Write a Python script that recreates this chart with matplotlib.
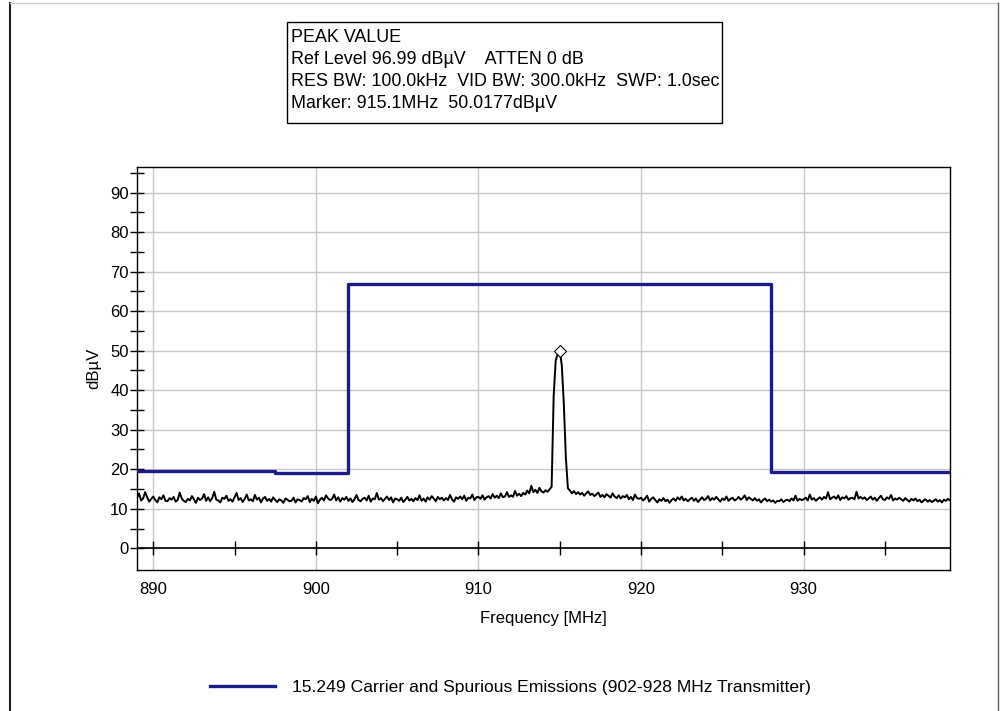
import numpy as np
import matplotlib
matplotlib.use("Agg")
import matplotlib.pyplot as plt
from matplotlib.lines import Line2D
from matplotlib.patches import Rectangle

plt.rcParams['font.family'] = ['Liberation Sans', 'DejaVu Sans']

# Sweep settings (401 points, 889-939 MHz)
sweep_start = 889.0
sweep_stop = 939.0
sweep_points = 401

# Measured trace (dBuV), one row per MHz, 8 points per row
trace_dbuv = [
    12.8, 13.9, 12.1, 12.6, 14.2, 12.9, 11.8, 12.5,   # 889
    13.1, 12.2, 11.6, 12.9, 12.4, 13.4, 12.0, 11.9,   # 890
    12.7, 12.3, 13.0, 11.8, 12.2, 14.1, 12.6, 12.0,   # 891
    11.7, 12.5, 12.1, 13.2, 12.4, 11.5, 12.8, 12.2,   # 892
    12.6, 13.7, 12.0, 12.9, 11.9, 12.7, 14.3, 12.3,   # 893
    12.1, 11.6, 12.8, 12.5, 13.3, 12.0, 12.4, 11.8,   # 894
    12.9, 14.0, 12.2, 12.7, 11.7, 12.5, 13.6, 12.1,   # 895
    12.4, 11.9, 13.5, 12.3, 12.8, 11.6, 12.6, 13.0,   # 896
    12.0, 12.5, 11.8, 12.9, 12.2, 11.7, 12.4, 12.1,   # 897
    11.5, 12.6, 12.3, 11.9, 12.0, 12.8, 11.6, 12.4,   # 898
    12.2, 11.8, 12.7, 12.4, 13.2, 11.7, 12.5, 12.0,   # 899
    13.1, 11.4, 12.3, 12.8, 12.1, 13.4, 12.6, 12.2,   # 900
    12.5, 13.6, 12.1, 12.9, 11.8, 12.7, 12.3, 13.0,   # 901
    12.0, 12.6, 11.7, 12.4, 13.5, 12.2, 11.9, 12.5,   # 902
    12.8, 12.1, 13.3, 11.8, 12.6, 12.4, 14.0, 12.3,   # 903
    12.7, 11.9, 12.5, 13.1, 12.2, 12.9, 11.6, 12.6,   # 904
    12.4, 12.0, 12.8, 11.7, 12.3, 13.0, 12.1, 12.5,   # 905
    11.9, 12.7, 12.2, 13.4, 12.0, 12.6, 11.8, 12.9,   # 906
    12.3, 13.2, 12.6, 11.9, 13.0, 12.4, 12.8, 12.1,   # 907
    12.7, 12.2, 13.5, 12.4, 11.8, 12.9, 12.5, 13.1,   # 908
    12.4, 13.3, 12.0, 12.8, 12.6, 13.6, 12.2, 12.9,   # 909
    13.0, 12.5, 13.4, 12.3, 12.9, 13.2, 12.6, 13.7,   # 910
    12.8, 13.3, 12.7, 13.9, 12.9, 13.1, 14.2, 13.0,   # 911
    13.4, 13.0, 14.5, 13.3, 13.8, 13.2, 14.0, 13.6,   # 912
    14.6, 13.9, 15.8, 14.2, 14.8, 14.0, 15.3, 14.4,   # 913
    14.1, 14.7, 14.3, 14.9, 15.6, 38.5, 47.5, 49.2,   # 914
    50.0, 46.3, 36.5, 23.0, 15.2, 14.6, 13.9, 14.5,   # 915
    13.7, 14.2, 13.6, 14.0, 13.3, 13.9, 14.4, 13.5,   # 916
    13.8, 13.2, 13.6, 14.1, 13.0, 13.5, 12.9, 13.7,   # 917
    13.3, 12.8, 13.9, 13.1, 12.7, 13.4, 12.6, 13.2,   # 918
    12.9, 13.5, 12.4, 13.0, 12.2, 13.6, 12.7, 12.5,   # 919
    12.8, 12.1, 12.6, 13.3, 11.8, 12.5, 12.9, 12.2,   # 920
    11.6, 12.4, 12.0, 12.7, 11.9, 12.3, 11.5, 12.2,   # 921
    12.6, 12.0, 12.9, 12.3, 13.1, 12.1, 12.5, 11.9,   # 922
    12.4, 12.8, 12.0, 12.6, 11.7, 12.3, 12.9, 12.2,   # 923
    12.5, 13.2, 12.1, 12.7, 12.3, 13.0, 12.4, 11.8,   # 924
    12.6, 12.2, 13.1, 12.0, 12.5, 12.8, 12.1, 12.4,   # 925
    13.0, 12.3, 12.7, 13.4, 12.2, 12.9, 12.5, 12.1,   # 926
    12.7, 12.0, 12.4, 11.6, 12.2, 12.6, 11.9, 12.3,   # 927
    11.8, 12.1, 11.5, 12.0, 11.9, 12.4, 11.7, 12.1,   # 928
    12.3, 11.9, 12.6, 12.1, 13.3, 12.0, 12.5, 12.2,   # 929
    12.4, 12.8, 12.1, 13.6, 12.3, 12.7, 12.0, 12.5,   # 930
    12.9, 12.3, 13.0, 12.6, 14.2, 12.4, 12.8, 13.1,   # 931
    12.5, 13.4, 12.2, 12.9, 12.6, 13.2, 12.3, 12.7,   # 932
    12.8, 12.4, 14.3, 12.6, 13.0, 12.5, 12.9, 12.2,   # 933
    12.6, 13.1, 12.3, 12.8, 12.0, 12.7, 13.3, 12.4,   # 934
    12.2, 12.9, 12.5, 13.5, 12.1, 12.6, 12.3, 12.8,   # 935
    12.4, 12.0, 12.7, 12.2, 11.8, 12.5, 12.1, 12.6,   # 936
    11.9, 12.3, 11.6, 12.1, 12.4, 11.8, 12.2, 11.7,   # 937
    12.0, 12.4, 11.8, 12.2, 11.6, 12.3, 12.0, 12.5,   # 938
    12.1,                                             # 939
]

# Limit line (15.249), step edges in MHz and levels in dBuV
limit_freq = [889.0, 897.5, 902.0, 928.0, 939.0]
limit_dbuv = [19.6, 19.1, 67.0, 19.3, 19.3]

x_labels = [890, 900, 910, 920, 930]
x_minor = [890, 895, 900, 905, 910, 915, 920, 925, 930, 935]
y_labels = [0, 10, 20, 30, 40, 50, 60, 70, 80, 90]
y_minor = [5, 15, 25, 35, 45, 55, 65, 75, 85, 95]

info_lines = [
    "PEAK VALUE",
    "Ref Level 96.99 dB\u00b5V    ATTEN 0 dB",
    "RES BW: 100.0kHz  VID BW: 300.0kHz  SWP: 1.0sec",
    "Marker: 915.1MHz  50.0177dB\u00b5V",
]
legend_label = "15.249 Carrier and Spurious Emissions (902-928 MHz Transmitter)"

freq = np.linspace(sweep_start, sweep_stop, sweep_points)
trace = np.array(trace_dbuv)

W, H = 1000, 711
fig = plt.figure(figsize=(10, 7.11), dpi=100)
ax = fig.add_axes([137 / W, 1 - 570 / H, 813 / W, 403 / H])

# limit line and trace
lim_line, = ax.plot(limit_freq, limit_dbuv, drawstyle='steps-post', color='#1c1c88',
                    lw=2.4, zorder=3, label=legend_label)
ax.plot(freq, trace, color='black', lw=1.4, zorder=4)

# peak marker
ipk = int(np.argmax(trace))
ax.plot(freq[ipk], trace[ipk], marker='D', ms=6.5, mfc='white', mec='black', mew=0.8, zorder=5)

ax.set_xlim(889.0, 939.0)
ax.set_ylim(-5.5, 96.5)

# grid
ax.set_xticks(x_labels)
ax.set_yticks(y_labels)
ax.grid(True, color='#c8c8c8', lw=1.0, zorder=0)
ax.set_axisbelow(True)
ax.tick_params(axis='x', length=0, pad=9, labelsize=12)
ax.set_yticks(y_minor, minor=True)
ax.tick_params(axis='y', which='both', direction='inout', length=10, width=1.0, labelsize=12, pad=1)

for s in ax.spines.values():
    s.set_color('black')
    s.set_linewidth(1.0)

# x axis line at 0 dBuV with crossing ticks
ax.axhline(0, color='black', lw=1.2, zorder=2)
ax.plot(x_minor, [0] * len(x_minor), ls='none', marker='|', ms=10, mew=1.0, color='black', zorder=2)

ax.set_xlabel("Frequency [MHz]", fontsize=12, labelpad=10)
ax.set_ylabel("dB\u00b5V", fontsize=12, labelpad=6)

# info box
fig.patches.append(Rectangle((287 / W, 1 - 123 / H), 435 / W, 101 / H, transform=fig.transFigure,
                             fill=False, edgecolor='black', lw=1.0))
for i, line in enumerate(info_lines):
    fig.text(291 / W, 1 - (37 + 22 * i) / H, line, fontsize=12.9, va='center', ha='left')

# legend
fig.legend(handles=[lim_line], loc='center left', bbox_to_anchor=(210 / W, 1 - 687 / H),
           frameon=False, fontsize=12.6, handlelength=3.7, handletextpad=1.0,
           borderpad=0, borderaxespad=0)

# window border
fig.add_artist(Line2D([9.5 / W, 9.5 / W], [0, 1 - 3 / H], color='#202020', lw=1.5))
fig.add_artist(Line2D([9.5 / W, 998 / W], [1 - 3 / H, 1 - 3 / H], color='#d0d0d0', lw=1.0))
fig.add_artist(Line2D([998 / W, 998 / W], [0, 1 - 3 / H], color='#606060', lw=1.0))

fig.savefig("out.png", dpi=100)
